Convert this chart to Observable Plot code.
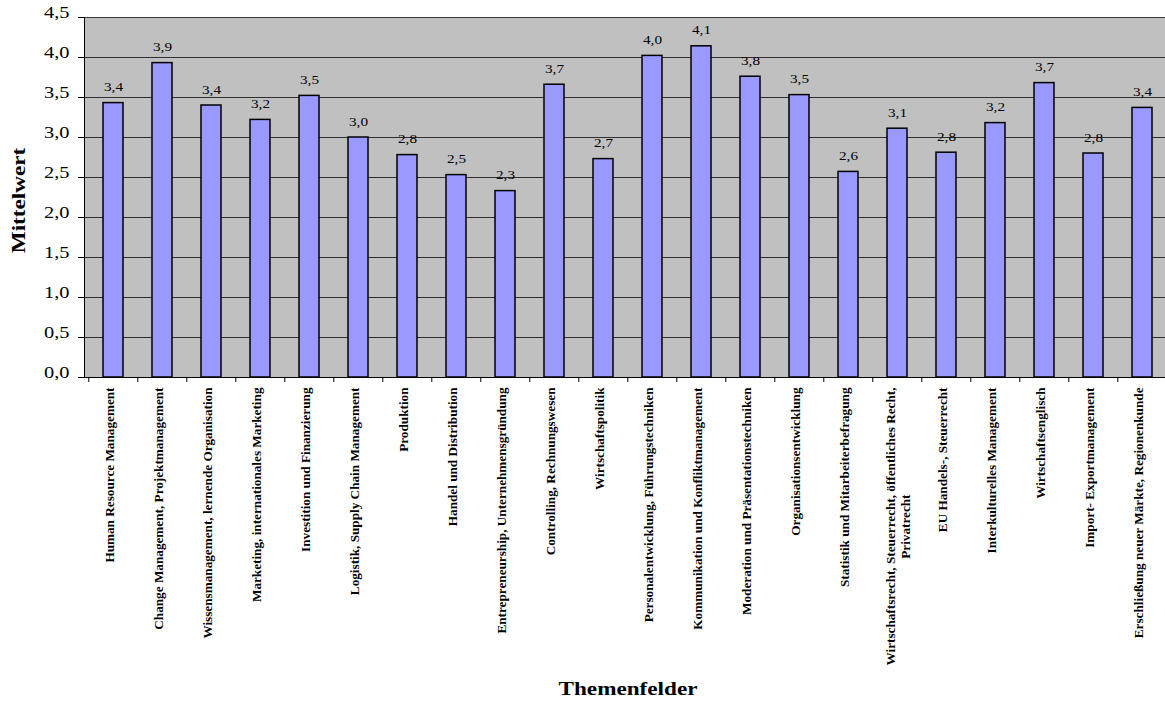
<!DOCTYPE html>
<html><head><meta charset="utf-8">
<script src="https://cdn.jsdelivr.net/npm/d3@7"></script>
<script src="https://cdn.jsdelivr.net/npm/@observablehq/plot@0.6"></script>
<style>body{margin:0;background:#fff;}</style>
</head><body><div id="chart"></div>
<script>
const categories = [
  "Human Resource Management",
  "Change Management, Projektmanagement",
  "Wissensmanagement, lernende Organisation",
  "Marketing, internationales Marketing",
  "Investition und Finanzierung",
  "Logistik, Supply Chain Management",
  "Produktion",
  "Handel und Distribution",
  "Entrepreneurship, Unternehmensgründung",
  "Controlling, Rechnungswesen",
  "Wirtschaftspolitik",
  "Personalentwicklung, Führungstechniken",
  "Kommunikation und Konfliktmanagement",
  "Moderation und Präsentationstechniken",
  "Organisationsentwicklung",
  "Statistik und Mitarbeiterbefragung",
  "Wirtschaftsrecht, Steuerrecht, öffentliches Recht,\nPrivatrecht",
  "EU Handels-, Steuerrecht",
  "Interkulturelles Management",
  "Wirtschaftsenglisch",
  "Import- Exportmanagement",
  "Erschließung neuer Märkte, Regionenkunde"
];
const values = [3.43, 3.93, 3.40, 3.22, 3.52, 3.00, 2.78, 2.53, 2.33, 3.66, 2.73,
                4.02, 4.14, 3.76, 3.53, 2.57, 3.11, 2.81, 3.18, 3.68, 2.80, 3.37];
const yTicks = [0, 0.5, 1, 1.5, 2, 2.5, 3, 3.5, 4, 4.5];
const yTitle = "Mittelwert";
const xTitle = "Themenfelder";

const data = categories.map((c, i) => ({c, v: values[i]}));
const fmt = d => d.toFixed(1).replace(".", ",");
const serif = "'Liberation Serif', 'Times New Roman', serif";
const xRange = [84, 1171];
const step = (xRange[1] - xRange[0]) / categories.length;

const chart = Plot.plot({
  width: 1165, height: 702,
  marginLeft: 84, marginRight: 0, marginTop: 17, marginBottom: 325,
  style: {fontFamily: serif, background: "#fff", color: "#000"},
  x: {domain: categories, range: xRange, paddingInner: 0.6, paddingOuter: 0.3, label: null},
  y: {domain: [0, 4.5], label: null},
  marks: [
    Plot.frame({fill: "#c0c0c0", stroke: null}),
    Plot.gridY(yTicks, {stroke: "#000", strokeOpacity: 0.75, strokeWidth: 1}),
    Plot.frame({anchor: "left", stroke: "#000"}),
    Plot.barY(data, {x: "c", y: "v", fill: "#9999ff", stroke: "#000", strokeWidth: 1.5}),
    Plot.text(data, {x: "c", y: "v", text: d => fmt(d.v), dy: -12, lineAnchor: "bottom", fontSize: 12.5, fill: "#000"}),
    Plot.axisY({ticks: yTicks, tickFormat: fmt, tickSize: 6, tickPadding: 9, fontSize: 17, label: null}),
    Plot.ruleY([0], {stroke: "#000"}),
    Plot.axisX({tickSize: 5, tickFormat: () => "", dx: -step / 2, label: null}),
    Plot.axisX({tickSize: 0, tickPadding: 10, tickRotate: -90, fontSize: 11.5, fontWeight: "bold", lineHeight: 1.35, label: null, tickFormat: d => d}),
    Plot.text([yTitle], {frameAnchor: "left", textAnchor: "middle", lineAnchor: "middle", dx: -60, dy: 3, rotate: -90, fontSize: 19, fontWeight: "bold", fill: "#000"}),
    Plot.text([xTitle], {frameAnchor: "bottom", textAnchor: "middle", lineAnchor: "middle", dy: 317, dx: 3, fontSize: 19, fontWeight: "bold", fill: "#000"})
  ]
});
document.getElementById("chart").append(chart);

// centre the second line of wrapped tick labels under the first
chart.querySelectorAll("text").forEach(t => {
  const spans = t.querySelectorAll("tspan");
  if (spans.length === 2) {
    const l1 = spans[0].getComputedTextLength(), l2 = spans[1].getComputedTextLength();
    spans[1].setAttribute("x", -(l1 - l2) / 2);
  }
});

// widen glyph advances along the text direction (as in the original rendering)
function stretch(text, sx) {
  const x = +text.getAttribute("x") || 0, y = +text.getAttribute("y") || 0;
  text.removeAttribute("x"); text.removeAttribute("y");
  const tr = text.getAttribute("transform") || "";
  text.setAttribute("transform", `${tr} translate(${x},${y}) scale(${sx},1)`);
}
const factors = {"y-axis tick label": 1.2, "x-axis tick label": 1.15, "text": 1.22};
for (const [label, f] of Object.entries(factors)) {
  chart.querySelectorAll(`g[aria-label="${label}"] text`).forEach(t => stretch(t, f));
}
</script>
</body></html>
